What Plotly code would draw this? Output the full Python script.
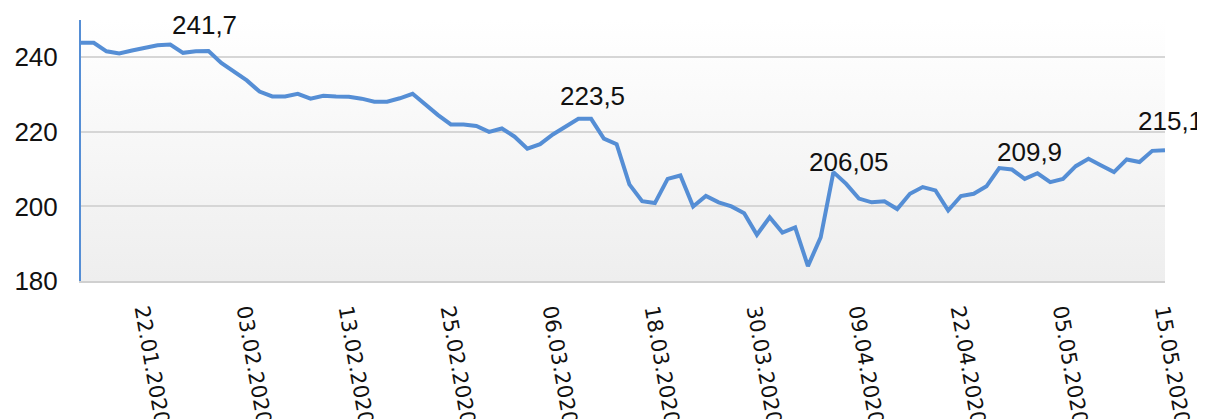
import urllib.parse
import plotly.graph_objects as go

dates = [
    "15.01.2020", "16.01.2020", "17.01.2020", "20.01.2020", "21.01.2020", "22.01.2020",
    "23.01.2020", "24.01.2020", "27.01.2020", "28.01.2020", "29.01.2020", "30.01.2020",
    "31.01.2020",
    "03.02.2020", "04.02.2020", "05.02.2020", "06.02.2020", "07.02.2020", "10.02.2020",
    "11.02.2020", "12.02.2020", "13.02.2020", "14.02.2020", "17.02.2020", "18.02.2020",
    "19.02.2020", "20.02.2020", "21.02.2020", "24.02.2020", "25.02.2020", "26.02.2020",
    "27.02.2020", "28.02.2020",
    "02.03.2020", "03.03.2020", "04.03.2020", "05.03.2020", "06.03.2020", "09.03.2020",
    "10.03.2020", "11.03.2020", "12.03.2020", "13.03.2020", "16.03.2020", "17.03.2020",
    "18.03.2020", "19.03.2020", "20.03.2020", "23.03.2020", "24.03.2020", "25.03.2020",
    "26.03.2020", "27.03.2020", "30.03.2020", "31.03.2020",
    "01.04.2020", "02.04.2020", "03.04.2020", "06.04.2020", "07.04.2020", "08.04.2020",
    "09.04.2020", "13.04.2020", "14.04.2020", "15.04.2020", "16.04.2020", "17.04.2020",
    "20.04.2020", "21.04.2020", "22.04.2020", "23.04.2020", "24.04.2020", "27.04.2020",
    "28.04.2020", "29.04.2020", "30.04.2020",
    "04.05.2020", "05.05.2020", "06.05.2020", "07.05.2020", "08.05.2020", "11.05.2020",
    "12.05.2020", "13.05.2020", "14.05.2020", "15.05.2020",
]

values = [
    243.9, 243.9, 241.6, 241.0, 241.8, 242.6, 243.2, 243.4, 241.2, 241.6,
    241.7, 238.5, 236.0, 233.8, 230.8, 229.5, 229.5, 230.2, 228.9, 229.7,
    229.5, 229.4, 228.9, 228.1, 228.1, 229.0, 230.2, 227.2, 224.5, 222.0,
    222.0, 221.6, 220.0, 220.9, 218.7, 215.5, 216.7, 219.3, 221.4, 223.5,
    223.5, 218.2, 216.7, 205.9, 201.4, 200.9, 207.4, 208.3, 200.0, 202.8,
    201.1, 200.0, 198.2, 192.4, 197.1, 193.0, 194.4, 184.0, 191.7, 209.2,
    206.05, 202.1, 201.1, 201.4, 199.3, 203.4, 205.2, 204.3, 198.9, 202.8,
    203.4, 205.4, 210.3, 209.9, 207.4, 208.9, 206.5, 207.4, 210.8, 212.8,
    211.0, 209.2, 212.6, 211.9, 214.9, 215.1,
]

y_ticks = [180, 200, 220, 240]
tick_dates = dates[5::8]

# labelled points: (category index, label text, x offset px, y offset px)
labels = [
    (10, "241,7", -4, 26),
    (40, "223,5", 1, 23),
    (60, "206,05", 3, 22),
    (73, "209,9", 18, 18),
    (85, "215,1", 5, 29),
]

line_color = "#558ED5"
font_family = "Liberation Sans, Arial, sans-serif"
tick_family = "DejaVu Sans, Verdana, sans-serif"

fig = go.Figure()
fig.add_trace(go.Scatter(
    x=dates, y=values, mode="lines",
    line=dict(color=line_color, width=4),
    hoverinfo="x+y", showlegend=False,
))

for idx, txt, dx, dy in labels:
    fig.add_annotation(
        x=dates[idx], y=values[idx], xref="x", yref="y",
        text=txt, showarrow=False, xanchor="center", yanchor="middle",
        xshift=dx, yshift=dy,
        font=dict(family=font_family, size=26, color="#111111"),
    )

svg = ('<svg xmlns="http://www.w3.org/2000/svg" width="10" height="100" preserveAspectRatio="none">'
       '<defs><linearGradient id="g" x1="0" y1="0" x2="0" y2="1">'
       '<stop offset="0" stop-color="#ffffff"/><stop offset="1" stop-color="#eeeeee"/>'
       '</linearGradient></defs><rect width="10" height="100" fill="url(#g)"/></svg>')
bg_uri = "data:image/svg+xml;charset=utf-8," + urllib.parse.quote(svg)

fig.add_layout_image(dict(
    source=bg_uri, xref="x domain", yref="y domain", x=0, y=1,
    sizex=1, sizey=1, xanchor="left", yanchor="top",
    sizing="stretch", layer="below", opacity=1,
))

fig.update_layout(
    width=1197, height=411,
    margin=dict(l=73, r=40, t=12, b=138),
    paper_bgcolor="white", plot_bgcolor="rgba(0,0,0,0)",
    font=dict(family=font_family, size=26, color="#111111"),
)
fig.update_xaxes(
    type="category", range=[0, len(dates) - 1],
    tickmode="array", tickvals=tick_dates, ticktext=tick_dates,
    tickangle=80, showgrid=False, ticks="",
    showline=True, linecolor="#d0d0d0", linewidth=1.5,
    tickfont=dict(family=tick_family, size=21, color="#111111"),
    ticklabelstandoff=8, automargin=False,
)
fig.update_yaxes(
    range=[180, 250], tickmode="array", tickvals=y_ticks,
    showgrid=True, gridcolor="#d6d6d6", gridwidth=1.5,
    showline=True, linecolor=line_color, linewidth=2,
    ticks="", ticklabelstandoff=16, zeroline=False,
    tickfont=dict(family=font_family, size=26, color="#111111"),
    automargin=False,
)

fig.write_html("out.html")
